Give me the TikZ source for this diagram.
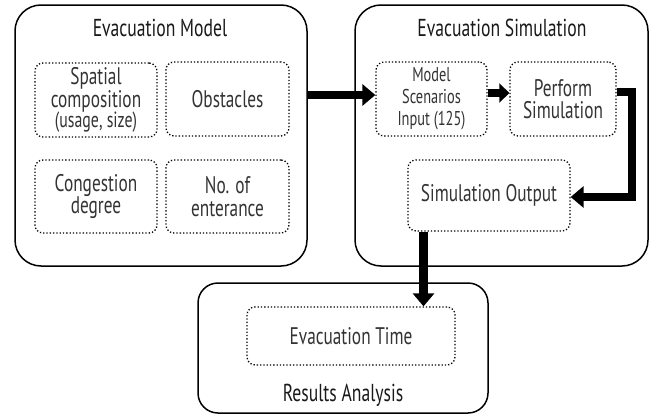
\documentclass[tikz,border=0pt]{standalone}
\usepackage{fontspec}
\setmainfont{PT Sans}[FakeStretch=0.72]
\usetikzlibrary{arrows.meta}
\tikzset{
  outerbox/.style={draw=black, line width=1.5pt, rounded corners=26pt, inner sep=0pt},
  innerbox/.style={draw=black, line width=1.3pt, dotted, rounded corners=8pt, inner sep=0pt, align=center, text=black!80, font=\fontsize{24}{22.5}\selectfont},
  titletext/.style={font=\fontsize{24.5}{26}\selectfont, text=black!90, inner sep=0pt},
  bigarrow/.style={line width=8.5pt, -{Triangle[length=13pt,width=21pt]}},
  smallarrow/.style={line width=8.5pt, -{Triangle[length=10pt,width=19pt]}},
}
\begin{document}
\begin{tikzpicture}[x=1pt,y=-1pt]
\useasboundingbox (0,0) rectangle (656,415);
% outer boxes
\node[outerbox, minimum width=292pt, minimum height=261pt] (model) at (161,135.5) {};
\node[outerbox, minimum width=293pt, minimum height=261pt] (sim) at (501.5,135.5) {};
\node[outerbox, rounded corners=20pt, minimum width=290pt, minimum height=130pt] (res) at (343,348) {};
% titles
\node[titletext] (tmodel) at (160,28) {Evacuation Model};
\node[titletext] (tsim) at (502,28) {Evacuation Simulation};
\node[titletext] (tres) at (343,395) {Results Analysis};
% inner boxes of model
\node[innerbox, minimum width=122pt, minimum height=74pt] (spatial) at (96,100) {Spatial\\composition\\[-2pt]{\fontsize{22}{20}\selectfont (usage, size)}};
\node[innerbox, minimum width=123pt, minimum height=74pt] (obst) at (227.5,99) {Obstacles};
\node[innerbox, minimum width=122pt, minimum height=73pt] (cong) at (96,196.5) {Congestion\\degree};
\node[innerbox, minimum width=123pt, minimum height=73pt] (noent) at (227.5,196.5) {No. of\\enterance};
% inner boxes of simulation
\node[innerbox, font=\fontsize{20}{22}\selectfont, minimum width=111pt, minimum height=74pt] (scen) at (431.5,99) {Model\\Scenarios\\Input (125)};
\node[innerbox, minimum width=106pt, minimum height=74pt] (perf) at (563,99) {Perform\\Simulation};
\node[innerbox, minimum width=162pt, minimum height=71pt] (out) at (489,195.5) {Simulation Output};
% result box
\node[innerbox, minimum width=208pt, minimum height=58pt] (etime) at (351,336) {Evacuation Time};
% connectors
\draw[bigarrow] (model.east |- 0,95) -- (scen.west |- 0,95);
\draw[smallarrow] (scen.east |- 0,93) -- (perf.west |- 0,93);
\coordinate (turn) at (632,92);
\draw[bigarrow] (perf.east |- turn) -- (turn) |- (out.east |- 0,197);
\draw[bigarrow] (out.south -| 423.5,0) -- (etime.north -| 423.5,0);
\end{tikzpicture}
\end{document}
